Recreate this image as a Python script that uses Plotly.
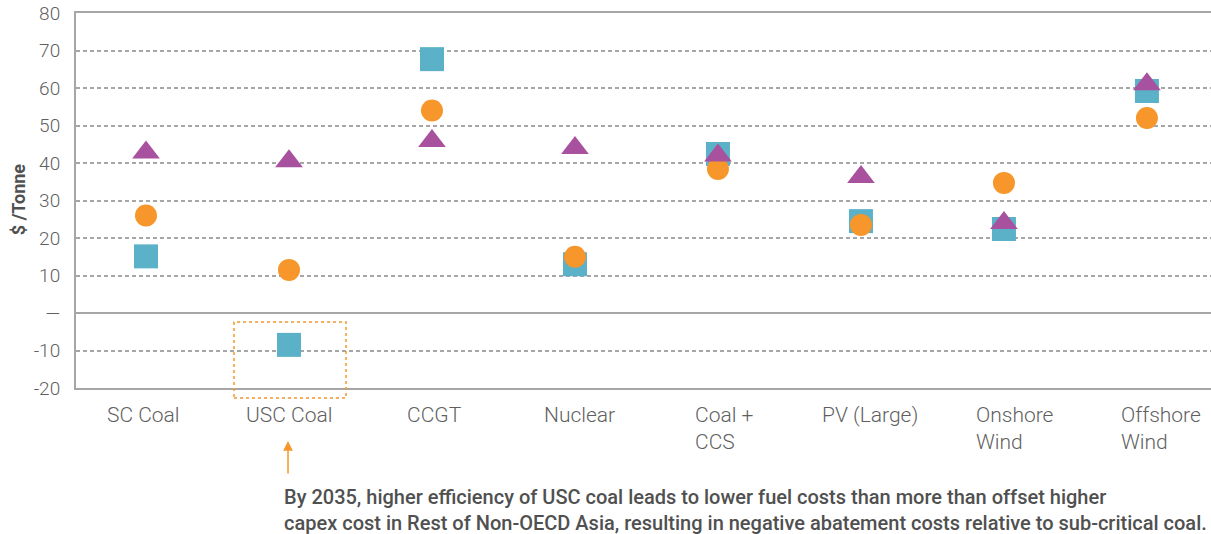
import plotly.graph_objects as go

categories = ["SC Coal", "USC Coal", "CCGT", "Nuclear", "Coal + CCS", "PV (Large)", "Onshore Wind", "Offshore Wind"]
tick_labels = ["SC Coal", "USC Coal", "CCGT", "Nuclear", "Coal +<br>CCS", "PV (Large)", "Onshore<br>Wind", "Offshore<br>Wind"]

series_square = [15.1, -8.5, 67.7, 13.0, 42.4, 24.5, 22.4, 59.2]   # Rest of Non-OECD Asia
series_circle = [26.0, 11.5, 54.0, 15.0, 38.4, 23.5, 34.7, 52.0]
series_triangle = [42.8, 40.5, 45.9, 44.0, 42.0, 36.3, 24.0, 61.0]

y_tickvals = [-20, -10, 0, 10, 20, 30, 40, 50, 60, 70, 80]
y_ticktext = ["-20", "-10", "\u2014", "10", "20", "30", "40", "50", "60", "70", "80"]

BLUE = "#5BB1C8"
ORANGE = "#F7962A"
PURPLE = "#A8519E"
GRID = "#A6A6A6"
TXT = "#5F5F5F"
FONT = "Roboto"

fig = go.Figure()
fig.add_trace(go.Scatter(x=categories, y=series_square, mode="markers", name="Rest of Non-OECD Asia",
                         marker=dict(symbol="square", size=24, color=BLUE, line=dict(width=0)), cliponaxis=False))
fig.add_trace(go.Scatter(x=categories, y=series_circle, mode="markers", name="Series 2",
                         marker=dict(symbol="circle", size=22, color=ORANGE, line=dict(width=0)), cliponaxis=False))
fig.add_trace(go.Scatter(x=categories, y=series_triangle, mode="markers", name="Series 3",
                         marker=dict(symbol="triangle-up", size=24, color=PURPLE, line=dict(width=0)), cliponaxis=False))

fig.update_layout(
    width=1211, height=534,
    margin=dict(l=76, r=0, t=13, b=146, autoexpand=False),
    plot_bgcolor="white", paper_bgcolor="white",
    showlegend=False,
    font=dict(family=FONT, color=TXT),
    xaxis=dict(type="category", categoryorder="array", categoryarray=categories,
               range=[-0.4895, 7.448], showticklabels=False, showgrid=False, automargin=False,
               showline=True, mirror=True, linecolor=GRID, linewidth=2, ticks="", zeroline=False),
    yaxis=dict(range=[-20, 80], tickvals=y_tickvals, ticktext=y_ticktext, automargin=False,
               tickfont=dict(size=19, color=TXT, family=FONT, weight=300),
               showgrid=True, gridcolor=GRID, gridwidth=2, griddash="4px,3px",
               zeroline=True, zerolinecolor=GRID, zerolinewidth=2,
               showline=True, linecolor=GRID, linewidth=2, ticks="", ticklabelstandoff=10),
)

# y-axis title
fig.add_annotation(x=-0.0511, xref="paper", y=0.501, yref="paper", text="<b>$ /Tonne</b>", textangle=-90,
                   showarrow=False, xanchor="center", yanchor="middle",
                   font=dict(size=18, color="#505050", family=FONT))

# category labels (left-aligned blocks)
for i, (c, lab) in enumerate(zip(categories, tick_labels)):
    fig.add_annotation(x=c, xref="x", y=-0.035, yref="paper", text=lab, showarrow=False,
                       xanchor="center", yanchor="top", align="left", xshift=-2.5 + 2.3 * i,
                       font=dict(size=21, color=TXT, family=FONT, weight=300))

# highlight box around USC Coal negative value
fig.add_shape(type="rect", xref="paper", yref="paper", x0=0.1392, x1=0.2379, y0=-0.0267, y1=0.176,
              line=dict(color=ORANGE, width=1.5, dash="dot"), fillcolor="rgba(0,0,0,0)")

# arrow
fig.add_annotation(x=0.1868, xref="paper", y=-0.1413, yref="paper", text="", showarrow=True,
                   ax=0, ay=34, arrowhead=2, arrowsize=1.3, arrowwidth=1.5, arrowcolor=ORANGE)

fig.add_annotation(x=0.1841, xref="paper", y=-0.252, yref="paper", xanchor="left", yanchor="top", align="left",
                   showarrow=False, xshift=-3,
                   text="By 2035, higher efficiency of USC coal leads to lower fuel costs than more than offset higher<br>"
                        "capex cost in Rest of Non-OECD Asia, resulting in negative abatement costs relative to sub-critical coal.",
                   font=dict(size=20, color="#505050", family=FONT, weight=500))

fig.write_html("out.html", config={"displayModeBar": False},
               post_script="document.body.style.margin='0';document.body.style.padding='0';")
